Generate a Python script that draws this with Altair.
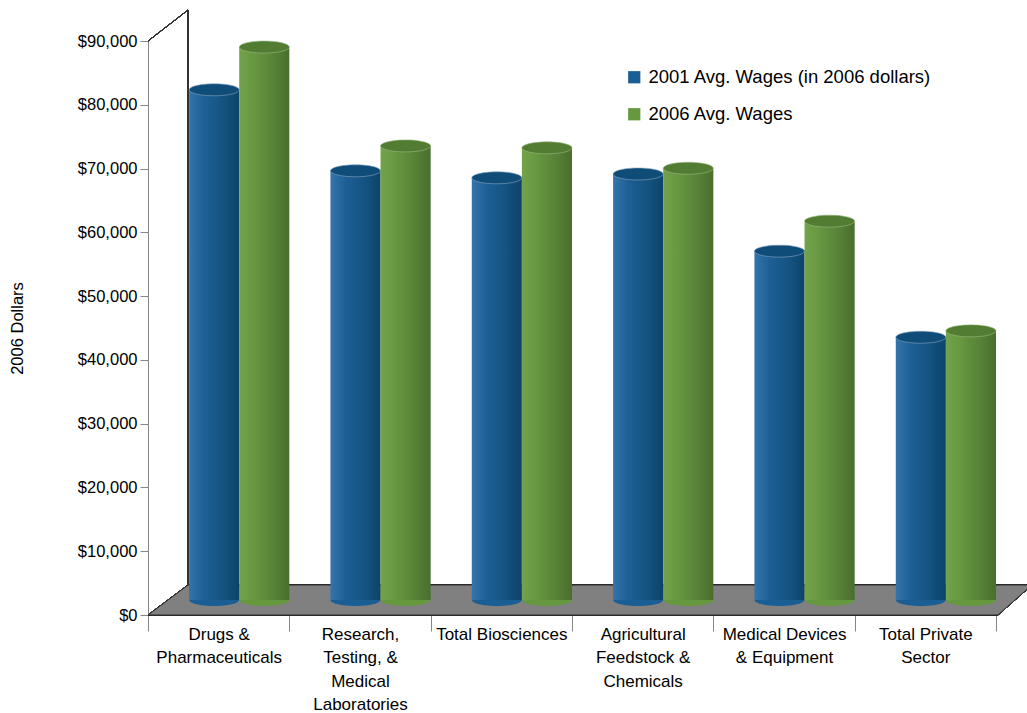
import math
import altair as alt
import pandas as pd

# ---------------- data ----------------
categories = [
    "Drugs &\nPharmaceuticals",
    "Research,\nTesting, &\nMedical\nLaboratories",
    "Total Biosciences",
    "Agricultural\nFeedstock &\nChemicals",
    "Medical Devices\n& Equipment",
    "Total Private\nSector",
]
series_names = ["2001 Avg. Wages (in 2006 dollars)", "2006 Avg. Wages"]
wages_2001 = [80000, 67300, 66200, 66800, 54700, 41200]
wages_2006 = [86700, 71200, 70900, 67700, 59400, 42200]
y_ticks = [0, 10000, 20000, 30000, 40000, 50000, 60000, 70000, 80000, 90000]

rows = []
for c, a, b in zip(categories, wages_2001, wages_2006):
    rows.append({"category": c, "series": series_names[0], "value": a})
    rows.append({"category": c, "series": series_names[1], "value": b})
df = pd.DataFrame(rows)

# ---------------- style ----------------
W, H = 848, 574
FONT = "Liberation Sans"
DEPTH_X, DEPTH_Y = 40, 30          # 3-D depth of the floor
BAR_DY = -15                        # bars stand in the middle of the floor

blue_grad = alt.Gradient(
    gradient="linear", x1=0, x2=1, y1=0, y2=0,
    stops=[alt.GradientStop(color="#3474AB", offset=0),
           alt.GradientStop(color="#1D5F96", offset=0.3),
           alt.GradientStop(color="#14527F", offset=0.7),
           alt.GradientStop(color="#0D4369", offset=1)])
green_grad = alt.Gradient(
    gradient="linear", x1=0, x2=1, y1=0, y2=0,
    stops=[alt.GradientStop(color="#72A24A", offset=0),
           alt.GradientStop(color="#679741", offset=0.3),
           alt.GradientStop(color="#578136", offset=0.7),
           alt.GradientStop(color="#4A6E2D", offset=1)])
top_colors = ["#0F4C78", "#527C31"]
base_colors = ["#1B5E93", "#66983F"]

# ellipse symbol (unit radius, flattened), scaled by Vega with sqrt(size)/2
pts = [(math.cos(t), 0.24 * math.sin(t))
       for t in [2 * math.pi * i / 48 for i in range(48)]]
ELLIPSE = "M" + " L".join(f"{x:.4f},{y:.4f}" for x, y in pts) + " Z"
ELL_SIZE = (2 * 25) ** 2  # 50 px wide

x_enc = alt.X(
    "category:N", sort=categories,
    scale=alt.Scale(paddingInner=0, paddingOuter=0),
    axis=alt.Axis(
        title=None, labelAngle=0, labelFontSize=17, labelFont=FONT,
        labelColor="#000000", labelExpr="split(datum.label, '\\n')",
        labelLineHeight=23.5, labelPadding=-5, tickSize=16, tickBand="extent",
        domainColor="#868686", tickColor="#868686", labelLimit=200,
    ),
)
xoff_enc = alt.XOffset(
    "series:N",
    scale=alt.Scale(domain=series_names, paddingInner=0, paddingOuter=0.41, align=1),
)
y_scale = alt.Scale(domain=[0, 90000], nice=False)
y_axis = alt.Axis(
    values=y_ticks, format="$,.0f", title="2006 Dollars", grid=False,
    labelFontSize=16.5, labelFont=FONT, labelColor="#000000",
    titleFontSize=16.5, titleFont=FONT, titleFontWeight="normal", titleColor="#000000",
    titleX=-123, tickSize=8, labelPadding=3,
    domainColor="#868686", tickColor="#868686",
)

base = alt.Chart(df)

# floor (gray parallelogram) and back-wall edges
floor = alt.Chart(df).mark_point(
    shape=f"M0,0 L{W + 2},0 L{W + 2 + DEPTH_X - 6},{-DEPTH_Y} L{DEPTH_X},{-DEPTH_Y} Z",
    size=4, filled=True, fill="#808080", stroke="#2b2b2b", strokeWidth=1, opacity=1,
).encode(x=alt.value(0), y=alt.value(H))

wall = alt.Chart(df).mark_rule(color="#333333", strokeWidth=1.5).encode(
    x=alt.value(DEPTH_X), x2=alt.value(DEPTH_X),
    y=alt.value(-31), y2=alt.value(H - DEPTH_Y))
wall_diag = alt.Chart(df).mark_rule(color="#333333", strokeWidth=1).encode(
    x=alt.value(0), x2=alt.value(DEPTH_X),
    y=alt.value(0), y2=alt.value(-31))

bottoms = base.mark_point(
    shape=ELLIPSE, size=ELL_SIZE, filled=True, opacity=1, strokeWidth=0, yOffset=BAR_DY,
).encode(
    x=x_enc, xOffset=xoff_enc,
    y=alt.Y("zero:Q", scale=y_scale, axis=y_axis),
    color=alt.Color(
        "series:N",
        scale=alt.Scale(domain=series_names, range=base_colors),
        legend=alt.Legend(
            title=None, orient="none", legendX=477, legendY=27,
            symbolType="square", symbolSize=150, symbolStrokeWidth=0,
            labelFontSize=18.5, labelFont=FONT, labelColor="#000000",
            rowPadding=18, labelOffset=5, labelLimit=400,
        ),
    ),
).transform_calculate(zero="0")

layers = [floor, wall, wall_diag, bottoms]
for name, grad, top in zip(series_names, [blue_grad, green_grad], top_colors):
    sub = base.transform_filter(alt.datum.series == name)
    bars = sub.mark_bar(color=grad, yOffset=BAR_DY, y2Offset=BAR_DY).encode(
        x=x_enc, xOffset=xoff_enc,
        y=alt.Y("value:Q", scale=y_scale),
        y2=alt.datum(0),
    )
    tops = sub.mark_point(
        shape=ELLIPSE, size=ELL_SIZE, filled=True, opacity=1,
        fill=top, stroke="#8aa6bf" if top == top_colors[0] else "#9cba84",
        strokeWidth=0.6, yOffset=BAR_DY,
    ).encode(
        x=x_enc, xOffset=xoff_enc,
        y=alt.Y("value:Q", scale=y_scale),
    )
    layers += [bars, tops]

chart = alt.layer(*layers).properties(
    width=W, height=H,
    padding={"left": 148, "top": 41, "right": 1027 - 148 - W, "bottom": 713 - 41 - H},
    autosize=alt.AutoSizeParams(type="none"),
    background="#ffffff",
).configure_view(stroke=None)

chart.save("out.html", embed_options={"renderer": "svg", "actions": False})
